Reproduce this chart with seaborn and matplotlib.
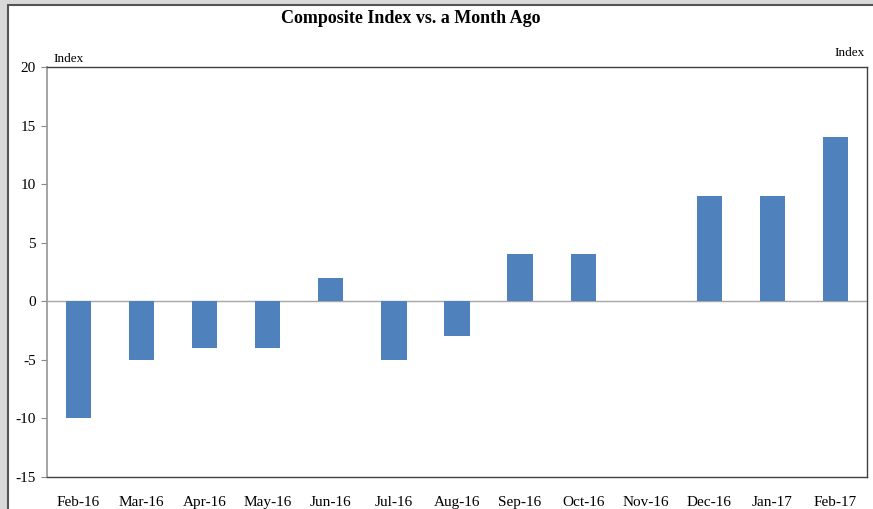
import matplotlib
matplotlib.use("Agg")
import matplotlib.pyplot as plt
import matplotlib.patches as mpatches
import seaborn as sns
import pandas as pd

months = ["Feb-16", "Mar-16", "Apr-16", "May-16", "Jun-16", "Jul-16", "Aug-16",
          "Sep-16", "Oct-16", "Nov-16", "Dec-16", "Jan-17", "Feb-17"]
change = [-10, -5, -4, -4, 2, -5, -3, 4, 4, 0, 9, 9, 14]
y_ticks = [-15, -10, -5, 0, 5, 10, 15, 20]

df = pd.DataFrame({"month": months, "change": change})

sns.set_theme(style="white")
plt.rcParams["font.family"] = ["Liberation Serif", "DejaVu Serif"]
plt.rcParams["axes.unicode_minus"] = False

fig = plt.figure(figsize=(8.73, 5.09), dpi=100)
fig.patch.set_facecolor("#d9d9d9")
# white panel with dark frame, like the pasted chart object
fig.patches.append(mpatches.Rectangle((8 / 873, -0.01), 1.0, 1.0, transform=fig.transFigure,
                                      facecolor="white", edgecolor="#555555", linewidth=1.5,
                                      zorder=-1))

ax = fig.add_axes([47 / 873, 1 - 477 / 509, 820 / 873, 410 / 509])
sns.barplot(data=df, x="month", y="change", color="#4F81BD", saturation=1,
            width=0.4, linewidth=0, ax=ax)

ax.set_ylim(-15, 20)
ax.set_yticks(y_ticks)
ax.axhline(0, color="#a6a6a6", linewidth=1, zorder=0)
ax.set_xlabel("")
ax.set_ylabel("")
ax.tick_params(axis="y", left=True, length=4, width=0.8, color="#888888",
               labelsize=11, pad=4, labelcolor="black")
ax.tick_params(axis="x", bottom=False, labelsize=11, pad=8, labelcolor="black")
for side in ["top", "right", "bottom"]:
    ax.spines[side].set_color("#404040")
    ax.spines[side].set_linewidth(1)
ax.spines["left"].set_color("#999999")

ax.text(0.008, 1.005, "Index", transform=ax.transAxes, fontsize=9.5, ha="left", va="bottom",
        color="black")
ax.text(0.997, 1.02, "Index", transform=ax.transAxes, fontsize=9.5, ha="right", va="bottom",
        color="black")
fig.text(0.47, 0.963, "Composite Index vs. a Month Ago", fontsize=13, fontweight="bold",
         ha="center", va="center", color="black")

fig.savefig("out.png", dpi=100)
